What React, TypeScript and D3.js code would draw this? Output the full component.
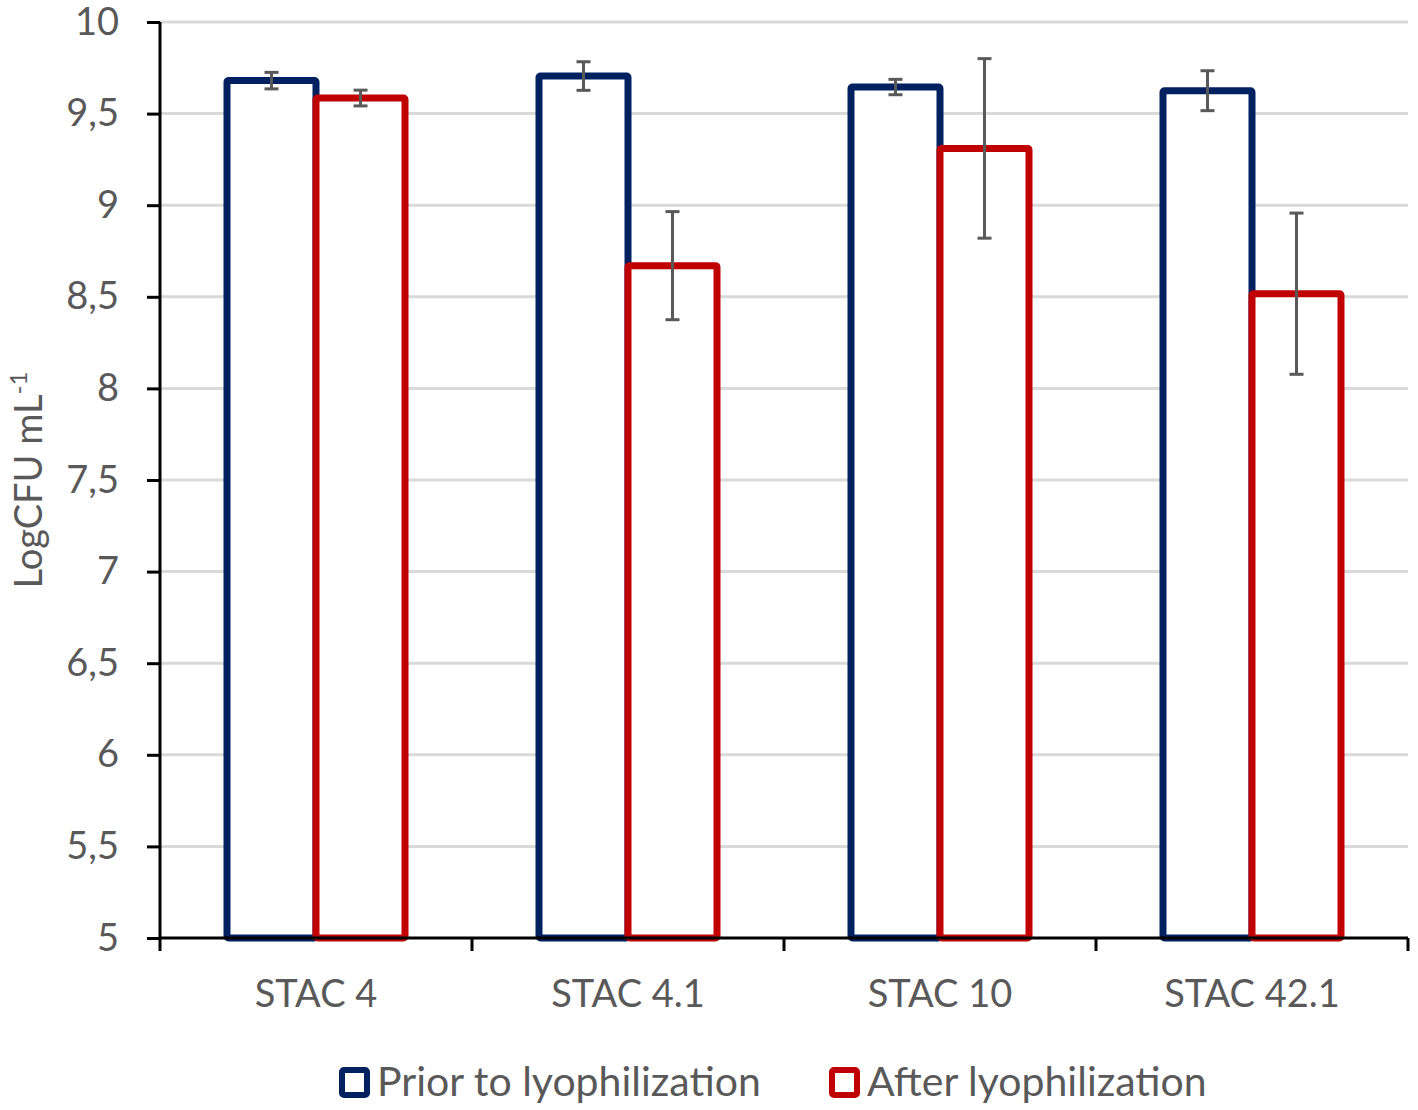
import { useEffect, useRef } from "react";
import * as d3 from "d3";

// strains on the x axis
const strains = ["STAC 4", "STAC 4.1", "STAC 10", "STAC 42.1"];
const seriesNames = ["Prior to lyophilization", "After lyophilization"];

// LogCFU mL-1
const priorValues = [9.68, 9.705, 9.645, 9.625];
const priorErrors = [0.045, 0.078, 0.042, 0.109];
const afterValues = [9.585, 8.67, 9.31, 8.517];
const afterErrors = [0.043, 0.295, 0.49, 0.44];

const yTicks = [5, 5.5, 6, 6.5, 7, 7.5, 8, 8.5, 9, 9.5, 10];

const W = 1418;
const H = 1110;
const colors = ["#002060", "#c00000"];
const FONT = "Lato, 'Open Sans', sans-serif";

export default function App() {
  const svgRef = useRef<SVGSVGElement>(null);

  useEffect(() => {
    document.body.style.margin = "0";
    if (!svgRef.current) return;
    const svg = d3.select(svgRef.current);
    svg.selectAll("*").remove();

    const left = 160;
    const right = 1408;
    const top = 22;
    const bottom = 938;

    const x = d3.scaleBand<string>().domain(strains).range([left, right]);
    const inner = d3
      .scaleBand<string>()
      .domain(seriesNames)
      .range([-89, 89]);
    const y = d3.scaleLinear().domain([5, 10]).range([bottom, top]);

    // grid lines
    svg
      .append("g")
      .selectAll("line")
      .data(yTicks.filter((t) => t > 5))
      .enter()
      .append("line")
      .attr("x1", left)
      .attr("x2", right)
      .attr("y1", (d) => y(d))
      .attr("y2", (d) => y(d))
      .style("stroke", "#d9d9d9")
      .style("stroke-width", 3);

    const data = strains.map((s, i) => [
      { strain: s, series: seriesNames[0], v: priorValues[i], e: priorErrors[i], c: colors[0] },
      { strain: s, series: seriesNames[1], v: afterValues[i], e: afterErrors[i], c: colors[1] },
    ]);

    const groups = svg
      .append("g")
      .selectAll("g")
      .data(data)
      .enter()
      .append("g")
      .attr("transform", (d) => `translate(${x(d[0].strain)! + x.bandwidth() / 2},0)`);

    // bars (outlined, white fill)
    groups
      .selectAll("rect")
      .data((d) => d)
      .enter()
      .append("rect")
      .attr("x", (d) => inner(d.series)!)
      .attr("width", inner.bandwidth())
      .attr("y", (d) => y(d.v))
      .attr("height", (d) => y(5) - y(d.v))
      .attr("rx", 1.5)
      .style("fill", "white")
      .style("stroke", (d) => d.c)
      .style("stroke-width", 7);

    // error bars
    const err = groups
      .selectAll("g.err")
      .data((d) => d)
      .enter()
      .append("g")
      .attr("class", "err")
      .attr("transform", (d) => `translate(${inner(d.series)! + inner.bandwidth() / 2},0)`);
    err
      .append("line")
      .attr("x1", 0)
      .attr("x2", 0)
      .attr("y1", (d) => y(d.v + d.e))
      .attr("y2", (d) => y(d.v - d.e));
    err
      .append("line")
      .attr("x1", -7)
      .attr("x2", 7)
      .attr("y1", (d) => y(d.v + d.e))
      .attr("y2", (d) => y(d.v + d.e));
    err
      .append("line")
      .attr("x1", -7)
      .attr("x2", 7)
      .attr("y1", (d) => y(d.v - d.e))
      .attr("y2", (d) => y(d.v - d.e));
    err.selectAll("line").style("stroke", "#595959").style("stroke-width", 3);

    // y axis
    const yAxis = svg
      .append("g")
      .attr("transform", `translate(${left},0)`)
      .call(
        d3
          .axisLeft(y)
          .tickValues(yTicks)
          .tickSize(13)
          .tickPadding(28)
          .tickFormat((d) => String(d).replace(".", ","))
      );
    yAxis.select(".domain").attr("d", `M0,${top}V${bottom}`);

    // x axis
    const xAxis = svg
      .append("g")
      .attr("transform", `translate(0,${bottom})`)
      .call(d3.axisBottom(x).tickSize(0).tickPadding(42));
    xAxis.select(".domain").attr("d", `M${left},0H${right}`);
    xAxis
      .selectAll(".sep")
      .data(d3.range(strains.length + 1))
      .enter()
      .append("line")
      .attr("class", "sep")
      .attr("x1", (i) => left + x.step() * i)
      .attr("x2", (i) => left + x.step() * i)
      .attr("y1", 0)
      .attr("y2", 13)
      .style("stroke", "black")
      .style("stroke-width", 3);

    [yAxis, xAxis].forEach((a) => {
      a.selectAll(".domain, .tick line").style("stroke", "black").style("stroke-width", 3);
      a.selectAll("text")
        .style("font-family", FONT)
        .style("font-size", "38px")
        .style("fill", "#595959");
    });

    // y axis title
    const title = svg
      .append("text")
      .attr("transform", `translate(42,480) rotate(-90)`)
      .attr("text-anchor", "middle")
      .style("font-family", FONT)
      .style("font-size", "38px")
      .style("fill", "#595959");
    title.append("tspan").text("LogCFU mL");
    title.append("tspan").attr("dy", -15).style("font-size", "24px").text("-1");

    // legend
    const legendX = [339, 829];
    const legend = svg
      .append("g")
      .selectAll("g")
      .data(seriesNames)
      .enter()
      .append("g")
      .attr("transform", (_, i) => `translate(${legendX[i]},1067)`);
    legend
      .append("rect")
      .attr("x", 3)
      .attr("y", 3)
      .attr("width", 25)
      .attr("height", 25)
      .attr("rx", 2)
      .style("fill", "white")
      .style("stroke", (_, i) => colors[i])
      .style("stroke-width", 6);
    legend
      .append("text")
      .attr("x", 38)
      .attr("y", 29)
      .text((d) => d)
      .style("font-family", FONT)
      .style("font-size", "41px")
      .style("fill", "#595959");
  }, []);

  return <svg ref={svgRef} width={W} height={H} style={{ display: "block", background: "white" }} />;
}
